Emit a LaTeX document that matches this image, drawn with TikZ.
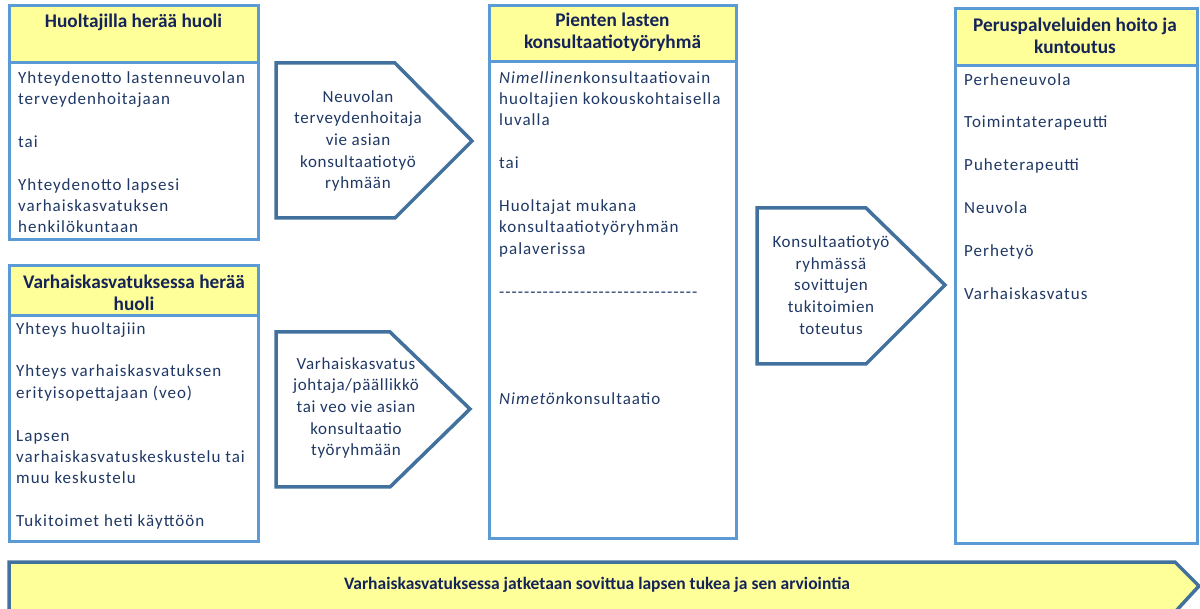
\documentclass[tikz,border=0pt]{standalone}
\usepackage{fontspec}
\newfontfamily\bodyfont{Carlito}[LetterSpace=6]
\newfontfamily\arrfont{Carlito}[LetterSpace=4]
\newfontfamily\headfont{Carlito}[BoldFont={Carlito Bold}]
\definecolor{boxblue}{RGB}{91,155,213}
\definecolor{arrblue}{RGB}{65,113,156}
\definecolor{yfill}{RGB}{255,255,153}
\definecolor{navy}{RGB}{31,56,100}
\definecolor{navyd}{RGB}{20,36,88}
\tikzset{
  bx/.style={draw=boxblue, line width=3pt},
  arr/.style={draw=arrblue, line width=3.5pt, line join=miter},
  hd/.style={font=\headfont\bfseries\fontsize{19.3}{22}\selectfont, text=navyd, align=center, inner sep=0pt},
  bd/.style={font=\bodyfont\fontsize{17}{21.4}\selectfont, text=navy, align=left, inner sep=0pt, anchor=north west},
  arrtxt/.style={font=\arrfont\fontsize{17}{21.7}\selectfont, text=navy, align=center, inner sep=0pt},
}
\begin{document}
\begin{tikzpicture}[x=1pt,y=-1pt]
\useasboundingbox (0,0) rectangle (1200,609);
% ---------- box 1
\fill[yfill] (9,6) rectangle (258,63);
\draw[bx] (9,6) rectangle (258,240);
\draw[bx] (9,63) -- (258,63);
\node[hd] (h1) at (133.5,22) {Huoltajilla herää huoli};
\node[bd] (b1) at (18,71) {Yhteydenotto lastenneuvolan\\terveydenhoitajaan\\[21.4pt]tai\\[21.4pt]Yhteydenotto lapsesi\\varhaiskasvatuksen\\henkilökuntaan};
% ---------- box 2
\fill[yfill] (9,266) rectangle (258,316);
\draw[bx] (9,266) rectangle (258,541);
\draw[bx] (9,316) -- (258,316);
\node[hd] (h2) at (134,292.5) {Varhaiskasvatuksessa herää\\huoli};
\node[bd] (b2) at (16,322) {Yhteys huoltajiin\\[21.4pt]Yhteys varhaiskasvatuksen\\erityisopettajaan (veo)\\[21.4pt]Lapsen\\varhaiskasvatuskeskustelu tai\\muu keskustelu\\[21.4pt]Tukitoimet heti käyttöön};
% ---------- box 3
\fill[yfill] (489,6) rectangle (736,62);
\draw[bx] (489,6) rectangle (736,538);
\draw[bx] (489,62) -- (736,62);
\node[hd] (h3) at (612.5,32) {Pienten lasten\\konsultaatiotyöryhmä};
\node[bd] (b3) at (499,71) {\textit{Nimellinen}konsultaatiovain\\huoltajien kokouskohtaisella\\luvalla\\[21.4pt]tai\\[21.4pt]Huoltajat mukana\\konsultaatiotyöryhmän\\palaverissa\\[21.4pt]{-}{-}{-}{-}{-}{-}{-}{-}{-}{-}{-}{-}{-}{-}{-}{-}{-}{-}{-}{-}{-}{-}{-}{-}{-}{-}{-}{-}{-}{-}{-}{-}\\[85.6pt]\textit{Nimetön}konsultaatio};
% ---------- box 4
\fill[yfill] (955,9) rectangle (1197,66);
\draw[bx] (955,9) rectangle (1197,543);
\draw[bx] (955,66) -- (1197,66);
\node[hd] (h4) at (1075,36) {Peruspalveluiden hoito ja\\kuntoutus};
\node[bd] (b4) at (964,73) {Perheneuvola\\[21.4pt]Toimintaterapeutti\\[21.4pt]Puheterapeutti\\[21.4pt]Neuvola\\[21.4pt]Perhetyö\\[21.4pt]Varhaiskasvatus};
% ---------- arrows
\draw[arr] (276,63) -- (395,63) -- (472,141) -- (395,218) -- (276,218) -- cycle;
\node[arrtxt] (a1) at (358,141) {Neuvolan\\terveydenhoitaja\\vie asian\\konsultaatiotyö\\ryhmään};
\draw[arr] (276,332) -- (390,332) -- (470,409) -- (390,487) -- (276,487) -- cycle;
\node[arrtxt] (a2) at (356,408) {Varhaiskasvatus\\johtaja/päällikkö\\tai veo vie asian\\konsultaatio\\työryhmään};
\draw[arr] (757,208) -- (866,208) -- (945,285) -- (866,364) -- (757,364) -- cycle;
\node[arrtxt] (a3) at (831,285) {Konsultaatiotyö\\ryhmässä\\sovittujen\\tukitoimien\\toteutus};
% ---------- bottom arrow
\filldraw[arr, fill=yfill] (9,562) -- (1175,562) -- (1199,586) -- (1175,612) -- (9,612) -- cycle;
\node[font=\headfont\bfseries\fontsize{17.5}{20}\selectfont, text=navyd, inner sep=0pt] (bt) at (597,585) {Varhaiskasvatuksessa jatketaan sovittua lapsen tukea ja sen arviointia};
\end{tikzpicture}
\end{document}
